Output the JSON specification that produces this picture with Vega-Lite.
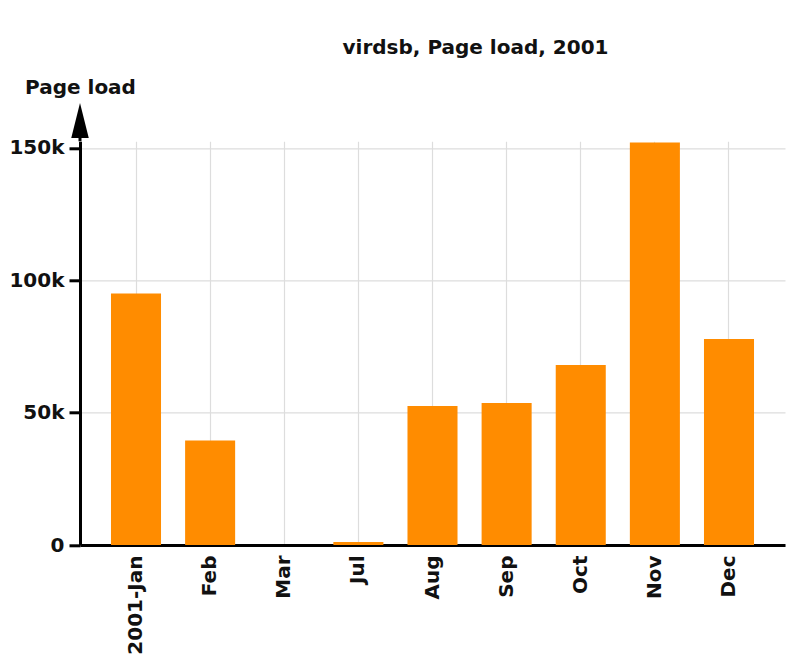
{
  "$schema": "https://vega.github.io/schema/vega-lite/v6.json",
  "autosize": {"type": "none"},
  "padding": {"left": 80, "top": 141.3, "right": 12, "bottom": 117},
  "width": 705,
  "height": 403.7,
  "background": "white",
  "config": {"view": {"stroke": null}, "font": "DejaVu Sans"},
  "title": {
    "text": "virdsb, Page load, 2001",
    "fontSize": 20,
    "font": "DejaVu Sans",
    "fontWeight": "bold",
    "color": "#111",
    "anchor": "middle",
    "frame": "group",
    "offset": 19,
    "dx": 43
  },
  "datasets": {
    "loads": [
      {"month": "2001-Jan", "load": 95000},
      {"month": "Feb", "load": 39500},
      {"month": "Mar", "load": 0},
      {"month": "Jul", "load": 1100},
      {"month": "Aug", "load": 52500},
      {"month": "Sep", "load": 53600},
      {"month": "Oct", "load": 68000},
      {"month": "Nov", "load": 152000},
      {"month": "Dec", "load": 77800}
    ],
    "arrow": [{"base": 152500, "tip": 160400}]
  },
  "layer": [
    {
      "data": {"name": "loads"},
      "mark": {"type": "bar", "color": "#FF8C00"},
      "encoding": {
        "x": {
          "field": "month",
          "type": "nominal",
          "sort": null,
          "scale": {"paddingInner": 0.325, "paddingOuter": 0.418},
          "axis": {
            "title": null,
            "labelAngle": -90,
            "labelFontSize": 20,
            "labelFontWeight": "bold",
            "labelColor": "#111",
            "labelPadding": 10,
            "ticks": false,
            "domainColor": "black",
            "domainWidth": 3,
            "grid": true,
            "gridColor": "#dddddd",
            "gridWidth": 1.2
          }
        },
        "y": {
          "field": "load",
          "type": "quantitative",
          "scale": {"domain": [0, 152500], "nice": false},
          "axis": {
            "title": "Page load",
            "titleAngle": 0,
            "titleFontSize": 20,
            "titleFontWeight": "bold",
            "titleColor": "#111",
            "titleX": 0,
            "titleY": -48,
            "titleAlign": "center",
            "titleBaseline": "alphabetic",
            "values": [0, 50000, 100000, 150000],
            "labelExpr": "datum.value == 0 ? '0' : format(datum.value / 1000, 'd') + 'k'",
            "labelFontSize": 20,
            "labelFontWeight": "bold",
            "labelColor": "#111",
            "labelPadding": 5,
            "domainColor": "black",
            "domainWidth": 3,
            "tickColor": "black",
            "tickWidth": 3,
            "tickSize": 11,
            "grid": true,
            "gridColor": "#dddddd",
            "gridWidth": 1.2
          }
        }
      }
    },
    {
      "data": {"name": "arrow"},
      "mark": {"type": "rule", "color": "black", "strokeWidth": 3, "clip": false},
      "encoding": {
        "x": {"value": 0},
        "y": {"field": "base", "type": "quantitative"},
        "y2": {"field": "tip"}
      }
    },
    {
      "data": {"name": "arrow"},
      "mark": {"type": "point", "shape": "M0,-1L0.5,1L-0.5,1Z", "filled": true, "color": "black", "size": 1225, "opacity": 1, "clip": false},
      "encoding": {
        "x": {"value": 0},
        "y": {"field": "tip", "type": "quantitative"}
      }
    }
  ]
}
